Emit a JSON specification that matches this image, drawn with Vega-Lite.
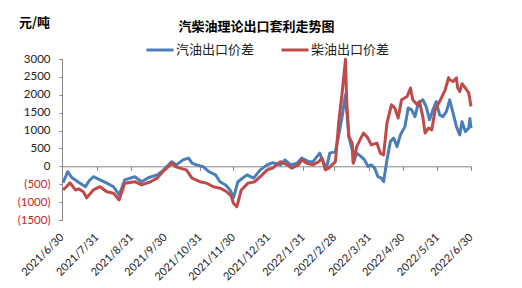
{
  "$schema": "https://vega.github.io/schema/vega-lite/v6.json",
  "width": 409,
  "height": 161,
  "autosize": {"type": "none"},
  "padding": {"left": 62, "top": 59, "right": 51, "bottom": 68},
  "background": "white",
  "title": {"text": "汽柴油理论出口套利走势图", "font": "Noto Sans CJK SC", "fontSize": 13, "fontWeight": "bold", "color": "#000000", "anchor": "middle", "frame": "group", "dx": -10, "offset": -18},
  "datasets": {
    "gas": [
      {"date": "2021-07-01", "value": -460}, {"date": "2021-07-05", "value": -150}, {"date": "2021-07-09", "value": -320}, {"date": "2021-07-12", "value": -380}, {"date": "2021-07-14", "value": -430}, {"date": "2021-07-21", "value": -570}, {"date": "2021-07-24", "value": -410}, {"date": "2021-07-28", "value": -290},
      {"date": "2021-08-03", "value": -380}, {"date": "2021-08-09", "value": -470}, {"date": "2021-08-15", "value": -570}, {"date": "2021-08-20", "value": -800}, {"date": "2021-08-25", "value": -380},
      {"date": "2021-09-03", "value": -290}, {"date": "2021-09-09", "value": -430}, {"date": "2021-09-15", "value": -320}, {"date": "2021-09-23", "value": -240}, {"date": "2021-09-28", "value": -120},
      {"date": "2021-10-06", "value": 130}, {"date": "2021-10-10", "value": 40}, {"date": "2021-10-16", "value": 180}, {"date": "2021-10-21", "value": 230}, {"date": "2021-10-24", "value": 90}, {"date": "2021-10-28", "value": 40},
      {"date": "2021-11-03", "value": -10}, {"date": "2021-11-08", "value": -150}, {"date": "2021-11-14", "value": -240}, {"date": "2021-11-18", "value": -430}, {"date": "2021-11-23", "value": -520}, {"date": "2021-11-27", "value": -660}, {"date": "2021-11-30", "value": -880},
      {"date": "2021-12-04", "value": -430}, {"date": "2021-12-12", "value": -240}, {"date": "2021-12-18", "value": -330}, {"date": "2021-12-24", "value": -100}, {"date": "2021-12-30", "value": 40},
      {"date": "2022-01-04", "value": 100}, {"date": "2022-01-11", "value": 40}, {"date": "2022-01-15", "value": 180}, {"date": "2022-01-20", "value": 40}, {"date": "2022-01-26", "value": 90}, {"date": "2022-01-30", "value": 230},
      {"date": "2022-02-05", "value": 130}, {"date": "2022-02-09", "value": 130}, {"date": "2022-02-15", "value": 370}, {"date": "2022-02-18", "value": 130}, {"date": "2022-02-21", "value": -50}, {"date": "2022-02-24", "value": 370},
      {"date": "2022-03-01", "value": 410}, {"date": "2022-03-04", "value": 880}, {"date": "2022-03-07", "value": 1390}, {"date": "2022-03-10", "value": 2000}, {"date": "2022-03-13", "value": 830}, {"date": "2022-03-16", "value": 460}, {"date": "2022-03-17", "value": 90}, {"date": "2022-03-20", "value": 370}, {"date": "2022-03-24", "value": 270}, {"date": "2022-03-27", "value": 180}, {"date": "2022-03-30", "value": 0},
      {"date": "2022-04-02", "value": 40}, {"date": "2022-04-05", "value": -50}, {"date": "2022-04-08", "value": -290}, {"date": "2022-04-11", "value": -330}, {"date": "2022-04-13", "value": -430}, {"date": "2022-04-16", "value": 180}, {"date": "2022-04-19", "value": 690}, {"date": "2022-04-22", "value": 790}, {"date": "2022-04-25", "value": 550}, {"date": "2022-04-28", "value": 880},
      {"date": "2022-05-02", "value": 1110}, {"date": "2022-05-05", "value": 1630}, {"date": "2022-05-08", "value": 1580}, {"date": "2022-05-11", "value": 1390}, {"date": "2022-05-14", "value": 1770}, {"date": "2022-05-18", "value": 1860}, {"date": "2022-05-21", "value": 1670}, {"date": "2022-05-24", "value": 1300}, {"date": "2022-05-27", "value": 1580}, {"date": "2022-05-30", "value": 1810},
      {"date": "2022-06-02", "value": 1440}, {"date": "2022-06-05", "value": 1390}, {"date": "2022-06-08", "value": 1530}, {"date": "2022-06-11", "value": 1860}, {"date": "2022-06-14", "value": 1490}, {"date": "2022-06-17", "value": 1110}, {"date": "2022-06-20", "value": 880}, {"date": "2022-06-22", "value": 1250}, {"date": "2022-06-25", "value": 970}, {"date": "2022-06-28", "value": 1070}, {"date": "2022-06-29", "value": 1340}, {"date": "2022-06-30", "value": 1070}
    ],
    "diesel": [
      {"date": "2021-07-01", "value": -660}, {"date": "2021-07-04", "value": -570}, {"date": "2021-07-07", "value": -460}, {"date": "2021-07-12", "value": -660}, {"date": "2021-07-15", "value": -630}, {"date": "2021-07-19", "value": -710}, {"date": "2021-07-22", "value": -880}, {"date": "2021-07-28", "value": -660},
      {"date": "2021-08-03", "value": -570}, {"date": "2021-08-09", "value": -710}, {"date": "2021-08-15", "value": -750}, {"date": "2021-08-20", "value": -940}, {"date": "2021-08-25", "value": -470},
      {"date": "2021-09-03", "value": -430}, {"date": "2021-09-09", "value": -520}, {"date": "2021-09-17", "value": -430}, {"date": "2021-09-23", "value": -330}, {"date": "2021-09-28", "value": -150},
      {"date": "2021-10-03", "value": -10}, {"date": "2021-10-06", "value": 90}, {"date": "2021-10-09", "value": 0}, {"date": "2021-10-13", "value": -50}, {"date": "2021-10-19", "value": -100}, {"date": "2021-10-24", "value": -330}, {"date": "2021-10-31", "value": -430},
      {"date": "2021-11-06", "value": -470}, {"date": "2021-11-12", "value": -570}, {"date": "2021-11-18", "value": -610}, {"date": "2021-11-24", "value": -710}, {"date": "2021-11-28", "value": -830}, {"date": "2021-11-30", "value": -1030},
      {"date": "2021-12-03", "value": -1130}, {"date": "2021-12-07", "value": -660}, {"date": "2021-12-13", "value": -470}, {"date": "2021-12-19", "value": -430}, {"date": "2021-12-24", "value": -290}, {"date": "2021-12-30", "value": -100},
      {"date": "2022-01-04", "value": -50}, {"date": "2022-01-11", "value": 130}, {"date": "2022-01-17", "value": 40}, {"date": "2022-01-21", "value": -50}, {"date": "2022-01-27", "value": 40}, {"date": "2022-01-30", "value": 180},
      {"date": "2022-02-03", "value": 90}, {"date": "2022-02-09", "value": 40}, {"date": "2022-02-14", "value": 130}, {"date": "2022-02-17", "value": 230}, {"date": "2022-02-20", "value": -100}, {"date": "2022-02-23", "value": -50}, {"date": "2022-02-26", "value": 40},
      {"date": "2022-03-01", "value": 130}, {"date": "2022-03-04", "value": 1250}, {"date": "2022-03-07", "value": 2050}, {"date": "2022-03-10", "value": 2990}, {"date": "2022-03-11", "value": 1860}, {"date": "2022-03-13", "value": 830}, {"date": "2022-03-16", "value": 650}, {"date": "2022-03-17", "value": 90}, {"date": "2022-03-20", "value": 550}, {"date": "2022-03-26", "value": 930}, {"date": "2022-03-30", "value": 790},
      {"date": "2022-04-02", "value": 600}, {"date": "2022-04-07", "value": 650}, {"date": "2022-04-10", "value": 370}, {"date": "2022-04-13", "value": 320}, {"date": "2022-04-16", "value": 1210}, {"date": "2022-04-20", "value": 1720}, {"date": "2022-04-23", "value": 1630}, {"date": "2022-04-26", "value": 1350}, {"date": "2022-04-29", "value": 1860},
      {"date": "2022-05-04", "value": 1950}, {"date": "2022-05-07", "value": 2190}, {"date": "2022-05-09", "value": 1860}, {"date": "2022-05-13", "value": 1720}, {"date": "2022-05-15", "value": 1810}, {"date": "2022-05-18", "value": 1390}, {"date": "2022-05-20", "value": 930}, {"date": "2022-05-23", "value": 1070}, {"date": "2022-05-26", "value": 1020}, {"date": "2022-05-29", "value": 1580},
      {"date": "2022-06-02", "value": 1810}, {"date": "2022-06-07", "value": 2140}, {"date": "2022-06-10", "value": 2480}, {"date": "2022-06-11", "value": 2420}, {"date": "2022-06-14", "value": 2370}, {"date": "2022-06-17", "value": 2470}, {"date": "2022-06-18", "value": 2200}, {"date": "2022-06-20", "value": 2090}, {"date": "2022-06-22", "value": 2310}, {"date": "2022-06-25", "value": 2190}, {"date": "2022-06-28", "value": 2050}, {"date": "2022-06-30", "value": 1670}
    ]
  },
  "layer": [
    {
      "data": {"name": "gas"},
      "transform": [{"calculate": "'汽油出口价差'", "as": "series"}],
      "mark": {"type": "line", "strokeWidth": 3, "strokeJoin": "round"},
      "encoding": {
        "x": {"field": "date", "type": "temporal"},
        "y": {"field": "value", "type": "quantitative"},
        "color": {"field": "series", "type": "nominal"}
      }
    },
    {
      "data": {"name": "diesel"},
      "transform": [{"calculate": "'柴油出口价差'", "as": "series"}],
      "mark": {"type": "line", "strokeWidth": 3, "strokeJoin": "round"},
      "encoding": {
        "x": {"field": "date", "type": "temporal"},
        "y": {"field": "value", "type": "quantitative"},
        "color": {"field": "series", "type": "nominal"}
      }
    }
  ],
  "encoding": {
    "x": {
      "field": "date", "type": "temporal",
      "scale": {"type": "utc", "domain": [{"year": 2021, "month": 6, "date": 30, "utc": true}, {"year": 2022, "month": 6, "date": 30, "utc": true}]},
      "axis": {
        "title": null,
        "values": [
          {"year": 2021, "month": 6, "date": 30, "utc": true}, {"year": 2021, "month": 7, "date": 31, "utc": true}, {"year": 2021, "month": 8, "date": 31, "utc": true}, {"year": 2021, "month": 9, "date": 30, "utc": true}, {"year": 2021, "month": 10, "date": 31, "utc": true}, {"year": 2021, "month": 11, "date": 30, "utc": true}, {"year": 2021, "month": 12, "date": 31, "utc": true},
          {"year": 2022, "month": 1, "date": 31, "utc": true}, {"year": 2022, "month": 2, "date": 28, "utc": true}, {"year": 2022, "month": 3, "date": 31, "utc": true}, {"year": 2022, "month": 4, "date": 30, "utc": true}, {"year": 2022, "month": 5, "date": 31, "utc": true}, {"year": 2022, "month": 6, "date": 30, "utc": true}
        ],
        "labelExpr": "utcFormat(datum.value, '%Y/%-m/%-d')",
        "labelAngle": -45, "labelAlign": "right", "labelBaseline": "middle",
        "labelPadding": 65, "tickSize": 4, "offset": -53.7,
        "domainColor": "#868686", "tickColor": "#868686", "grid": false,
        "labelFont": "Lato", "labelFontSize": 11, "labelColor": "#222222",
        "labelOverlap": false, "labelFlush": false, "labelBound": false
      }
    },
    "y": {
      "field": "value", "type": "quantitative",
      "scale": {"domain": [-1500, 3000], "nice": false, "zero": false},
      "axis": {
        "title": "元/吨", "titleAngle": 0, "titleX": -28, "titleY": -37, "titleAlign": "center", "titleBaseline": "middle",
        "titleFont": "Noto Sans CJK SC", "titleFontSize": 13, "titleFontWeight": "bold", "titleColor": "#000000",
        "values": [-1500, -1000, -500, 0, 500, 1000, 1500, 2000, 2500, 3000],
        "labelExpr": "datum.value < 0 ? '(' + abs(datum.value) + ')' : datum.value + '\u00a0'",
        "labelColor": {"condition": {"test": "datum.value < 0", "value": "#cc1f1f"}, "value": "#222222"},
        "labelFont": "Lato", "labelFontSize": 11.5, "labelPadding": 9, "tickSize": 3,
        "domainColor": "#868686", "tickColor": "#868686", "grid": false,
        "labelOverlap": false, "labelFlush": false
      }
    },
    "color": {
      "field": "series", "type": "nominal",
      "scale": {"domain": ["汽油出口价差", "柴油出口价差"], "range": ["#4a7ebb", "#be4b48"]},
      "legend": {
        "title": null, "orient": "none", "legendX": 83, "legendY": -24, "direction": "horizontal",
        "symbolType": "stroke", "symbolSize": 729, "symbolStrokeWidth": 3,
        "labelFont": "Noto Sans CJK SC", "labelFontSize": 13, "labelColor": "#222222", "labelOffset": 1, "columnPadding": 20
      }
    }
  },
  "config": {"view": {"stroke": null}}
}
